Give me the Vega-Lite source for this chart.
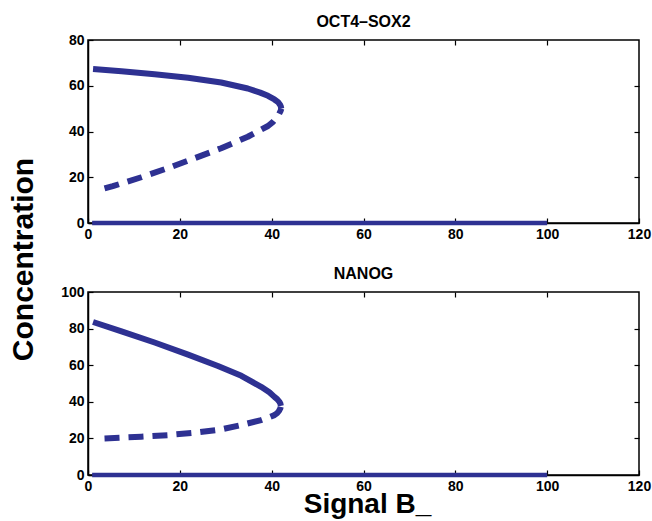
{
  "$schema": "https://vega.github.io/schema/vega-lite/v6.json",
  "background": "white",
  "padding": {"left": 7, "top": 13, "right": 5, "bottom": 0},
  "bounds": "flush",
  "spacing": 69,
  "config": {
    "font": "Liberation Sans",
    "view": {"stroke": "black", "strokeWidth": 1.5},
    "axis": {
      "grid": false,
      "domainColor": "black",
      "domainWidth": 1.5,
      "tickColor": "black",
      "tickSize": -5,
      "tickWidth": 1.2,
      "labelFont": "Liberation Sans",
      "labelFontWeight": "bold",
      "labelFontSize": 14,
      "labelColor": "black",
      "labelPadding": 9,
      "labelFlush": false,
      "titleFont": "Liberation Sans",
      "titleFontWeight": "bold",
      "titleColor": "black"
    },
    "title": {"font": "Liberation Sans", "fontSize": 16, "fontWeight": "bold", "color": "black", "offset": 3}
  },
  "datasets": {
    "curves": [
      {"panel": "OCT4", "series": "zero", "x": 0.9, "y": 0},
      {"panel": "OCT4", "series": "zero", "x": 100, "y": 0},
      {"panel": "OCT4", "series": "stable", "x": 1.1, "y": 67.3},
      {"panel": "OCT4", "series": "stable", "x": 7.3, "y": 66.3},
      {"panel": "OCT4", "series": "stable", "x": 14.5, "y": 65.0},
      {"panel": "OCT4", "series": "stable", "x": 21.8, "y": 63.5},
      {"panel": "OCT4", "series": "stable", "x": 29.0, "y": 61.4},
      {"panel": "OCT4", "series": "stable", "x": 34.8, "y": 58.8},
      {"panel": "OCT4", "series": "stable", "x": 37.5, "y": 57.0},
      {"panel": "OCT4", "series": "stable", "x": 39.2, "y": 55.6},
      {"panel": "OCT4", "series": "stable", "x": 40.6, "y": 54.0},
      {"panel": "OCT4", "series": "stable", "x": 41.4, "y": 52.8},
      {"panel": "OCT4", "series": "stable", "x": 41.8, "y": 51.8},
      {"panel": "OCT4", "series": "stable", "x": 42.0, "y": 50.9},
      {"panel": "OCT4", "series": "stable", "x": 42.1, "y": 50.0},
      {"panel": "OCT4", "series": "unstable", "x": 3.6, "y": 15.1},
      {"panel": "OCT4", "series": "unstable", "x": 5.4, "y": 16.1},
      {"panel": "OCT4", "series": "unstable", "x": 11.6, "y": 20.0},
      {"panel": "OCT4", "series": "unstable", "x": 17.4, "y": 24.0},
      {"panel": "OCT4", "series": "unstable", "x": 23.2, "y": 28.3},
      {"panel": "OCT4", "series": "unstable", "x": 29.0, "y": 32.7},
      {"panel": "OCT4", "series": "unstable", "x": 34.8, "y": 37.7},
      {"panel": "OCT4", "series": "unstable", "x": 39.2, "y": 42.4},
      {"panel": "OCT4", "series": "unstable", "x": 40.3, "y": 44.2},
      {"panel": "OCT4", "series": "unstable", "x": 41.0, "y": 46.0},
      {"panel": "OCT4", "series": "unstable", "x": 41.6, "y": 47.6},
      {"panel": "OCT4", "series": "unstable", "x": 41.95, "y": 49.0},
      {"panel": "OCT4", "series": "unstable", "x": 42.1, "y": 50.0},
      {"panel": "NANOG", "series": "zero", "x": 0.9, "y": 0},
      {"panel": "NANOG", "series": "zero", "x": 100, "y": 0},
      {"panel": "NANOG", "series": "stable", "x": 1.1, "y": 83.6},
      {"panel": "NANOG", "series": "stable", "x": 7.3, "y": 78.5},
      {"panel": "NANOG", "series": "stable", "x": 14.5, "y": 72.4},
      {"panel": "NANOG", "series": "stable", "x": 21.8, "y": 65.8},
      {"panel": "NANOG", "series": "stable", "x": 28.3, "y": 59.6},
      {"panel": "NANOG", "series": "stable", "x": 33.4, "y": 54.2},
      {"panel": "NANOG", "series": "stable", "x": 37.7, "y": 48.2},
      {"panel": "NANOG", "series": "stable", "x": 39.5, "y": 45.2},
      {"panel": "NANOG", "series": "stable", "x": 40.6, "y": 42.7},
      {"panel": "NANOG", "series": "stable", "x": 41.2, "y": 41.5},
      {"panel": "NANOG", "series": "stable", "x": 41.7, "y": 40.0},
      {"panel": "NANOG", "series": "stable", "x": 41.9, "y": 39.0},
      {"panel": "NANOG", "series": "stable", "x": 42.0, "y": 37.8},
      {"panel": "NANOG", "series": "unstable", "x": 3.6, "y": 20.0},
      {"panel": "NANOG", "series": "unstable", "x": 11.6, "y": 20.9},
      {"panel": "NANOG", "series": "unstable", "x": 17.4, "y": 21.8},
      {"panel": "NANOG", "series": "unstable", "x": 23.2, "y": 23.1},
      {"panel": "NANOG", "series": "unstable", "x": 29.0, "y": 24.9},
      {"panel": "NANOG", "series": "unstable", "x": 33.4, "y": 27.3},
      {"panel": "NANOG", "series": "unstable", "x": 37.7, "y": 30.0},
      {"panel": "NANOG", "series": "unstable", "x": 39.4, "y": 31.5},
      {"panel": "NANOG", "series": "unstable", "x": 40.6, "y": 32.7},
      {"panel": "NANOG", "series": "unstable", "x": 41.2, "y": 33.8},
      {"panel": "NANOG", "series": "unstable", "x": 41.6, "y": 35.0},
      {"panel": "NANOG", "series": "unstable", "x": 41.9, "y": 36.5},
      {"panel": "NANOG", "series": "unstable", "x": 42.0, "y": 37.8}
    ]
  },
  "vconcat": [
    {
      "width": 551,
      "height": 183,
      "title": "OCT4–SOX2",
      "data": {"name": "curves"},
      "transform": [{"filter": "datum.panel === 'OCT4'"}],
      "resolve": {"axis": {"x": "independent", "y": "independent"}},
      "layer": [
        {
          "transform": [{"filter": "datum.series === 'zero'"}],
          "mark": {"type": "line", "color": "#2e3192", "strokeWidth": 4.5, "strokeCap": "butt"},
          "encoding": {
            "x": {"field": "x", "type": "quantitative", "scale": {"domain": [0, 120], "nice": false, "zero": false},
                  "axis": {"values": [0, 20, 40, 60, 80, 100, 120], "title": null}},
            "y": {"field": "y", "type": "quantitative", "scale": {"domain": [0, 80], "nice": false},
                  "axis": {"values": [0, 20, 40, 60, 80], "title": "Concentration", "titleFontSize": 30,
                           "titleAngle": 270, "titleBaseline": "alphabetic", "titleAlign": "center",
                           "titleX": -56, "titleY": 219}}
          }
        },
        {
          "transform": [{"filter": "datum.series === 'stable'"}],
          "mark": {"type": "line", "color": "#2e3192", "strokeWidth": 6, "strokeCap": "butt", "strokeJoin": "round"},
          "encoding": {
            "x": {"field": "x", "type": "quantitative", "scale": {"domain": [0, 120], "nice": false, "zero": false},
                  "axis": {"orient": "top", "values": [20, 40, 60, 80, 100], "labels": false, "domain": false, "title": null}},
            "y": {"field": "y", "type": "quantitative", "scale": {"domain": [0, 80], "nice": false},
                  "axis": {"orient": "right", "values": [20, 40, 60], "labels": false, "domain": false, "title": null}}
          }
        },
        {
          "transform": [{"filter": "datum.series === 'unstable'"}],
          "mark": {"type": "line", "color": "#2e3192", "strokeWidth": 6, "strokeCap": "butt", "strokeJoin": "round", "strokeDash": [15, 9]},
          "encoding": {
            "x": {"field": "x", "type": "quantitative", "scale": {"domain": [0, 120], "nice": false, "zero": false}, "axis": null},
            "y": {"field": "y", "type": "quantitative", "scale": {"domain": [0, 80], "nice": false}, "axis": null}
          }
        }
      ]
    },
    {
      "width": 551,
      "height": 183,
      "title": "NANOG",
      "data": {"name": "curves"},
      "transform": [{"filter": "datum.panel === 'NANOG'"}],
      "resolve": {"axis": {"x": "independent", "y": "independent"}},
      "layer": [
        {
          "transform": [{"filter": "datum.series === 'zero'"}],
          "mark": {"type": "line", "color": "#2e3192", "strokeWidth": 4.5, "strokeCap": "butt"},
          "encoding": {
            "x": {"field": "x", "type": "quantitative", "scale": {"domain": [0, 120], "nice": false, "zero": false},
                  "axis": {"values": [0, 20, 40, 60, 80, 100, 120], "title": "Signal B_", "titleFontSize": 28,
                           "titleBaseline": "alphabetic", "titleAlign": "center", "titleX": 279, "titleY": 37}},
            "y": {"field": "y", "type": "quantitative", "scale": {"domain": [0, 100], "nice": false},
                  "axis": {"values": [0, 20, 40, 60, 80, 100], "title": null}}
          }
        },
        {
          "transform": [{"filter": "datum.series === 'stable'"}],
          "mark": {"type": "line", "color": "#2e3192", "strokeWidth": 6, "strokeCap": "butt", "strokeJoin": "round"},
          "encoding": {
            "x": {"field": "x", "type": "quantitative", "scale": {"domain": [0, 120], "nice": false, "zero": false},
                  "axis": {"orient": "top", "values": [20, 40, 60, 80, 100], "labels": false, "domain": false, "title": null}},
            "y": {"field": "y", "type": "quantitative", "scale": {"domain": [0, 100], "nice": false},
                  "axis": {"orient": "right", "values": [20, 40, 60, 80], "labels": false, "domain": false, "title": null}}
          }
        },
        {
          "transform": [{"filter": "datum.series === 'unstable'"}],
          "mark": {"type": "line", "color": "#2e3192", "strokeWidth": 6, "strokeCap": "butt", "strokeJoin": "round", "strokeDash": [15, 9]},
          "encoding": {
            "x": {"field": "x", "type": "quantitative", "scale": {"domain": [0, 120], "nice": false, "zero": false}, "axis": null},
            "y": {"field": "y", "type": "quantitative", "scale": {"domain": [0, 100], "nice": false}, "axis": null}
          }
        }
      ]
    }
  ]
}
